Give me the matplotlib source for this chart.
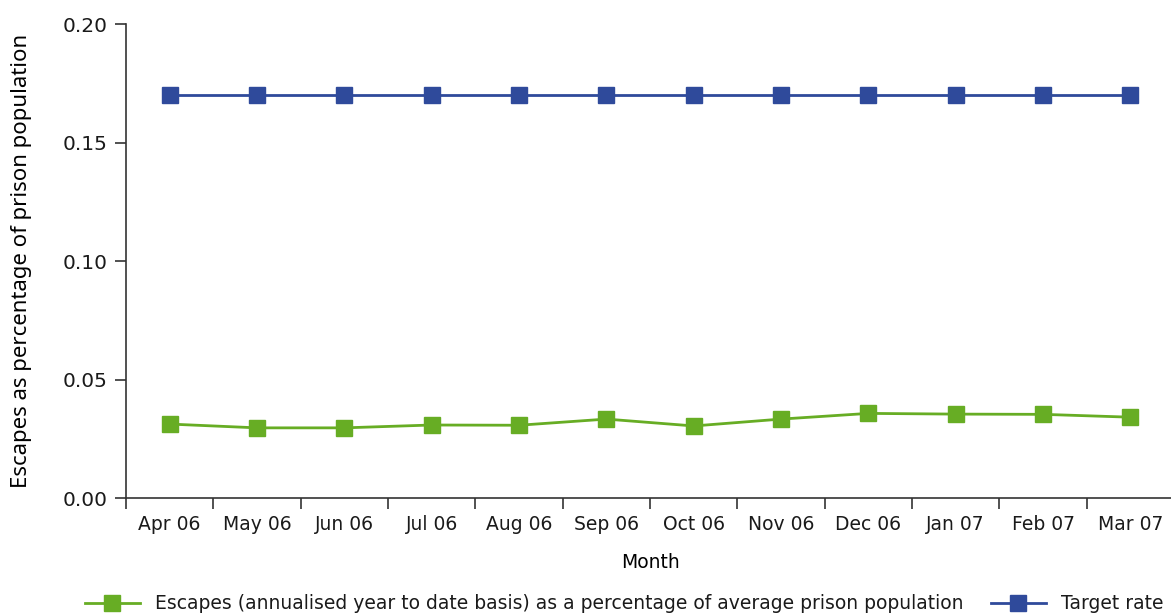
import matplotlib.pyplot as plt
import numpy as np


# Monthly escape rates, April 2006 to March 2007.
months = ['Apr 06', 'May 06', 'Jun 06', 'Jul 06', 'Aug 06', 'Sep 06',
          'Oct 06', 'Nov 06', 'Dec 06', 'Jan 07', 'Feb 07', 'Mar 07']
escapes = [0.0312, 0.0296, 0.0296, 0.0308, 0.0307, 0.0333,
           0.0304, 0.0333, 0.0357, 0.0354, 0.0353, 0.0341]
target = [0.17] * 12

green = '#67ad24'
blue = '#2f4a9b'

plt.rcParams['font.family'] = ['DejaVu Sans']
plt.rcParams['font.size'] = 13.5
plt.rcParams['text.color'] = '#1a1a1a'

fig = plt.figure(figsize=(11.71, 6.13), dpi=100)
ax = fig.add_axes((0.1076, 0.1876, 0.8950, 0.7732))

x = np.arange(len(months))
ax.plot(x, escapes, color=green, lw=2, marker='s', ms=12,
        label='Escapes (annualised year to date basis) as a percentage of average prison population')
ax.plot(x, target, color=blue, lw=2, marker='s', ms=12, label='Target rate')

# Axes. Labels sit between the boundary ticks.
ax.set_xlim(-0.5, 11.5)
ax.set_ylim(0, 0.20)
ax.set_yticks([0, 0.05, 0.10, 0.15, 0.20])
ax.set_yticklabels(['0.00', '0.05', '0.10', '0.15', '0.20'])
ax.set_xticks(x)
ax.set_xticklabels(months)
ax.set_xticks(np.arange(-0.5, 12, 1), minor=True)
ax.tick_params(axis='x', which='major', length=0, pad=12, labelcolor='#1a1a1a')
ax.tick_params(axis='x', which='minor', length=8, width=1.2, color='#333333')
ax.tick_params(axis='y', length=8, width=1.2, color='#333333', pad=5,
               labelcolor='#1a1a1a', labelsize=14.5)
for s in ('top', 'right'):
    ax.spines[s].set_visible(False)
for s in ('left', 'bottom'):
    ax.spines[s].set_linewidth(1.2)
    ax.spines[s].set_color('#333333')

ax.set_xlabel('Month', labelpad=14)
ax.set_ylabel('Escapes as percentage of prison population', labelpad=22,
              family='Noto Sans', fontsize=16)

fig.legend(loc='lower center', bbox_to_anchor=(0.533, -0.028), ncol=2,
           frameon=False, handlelength=2.9, handletextpad=0.8,
           columnspacing=1.5)

fig.savefig('out.png', dpi=100)
